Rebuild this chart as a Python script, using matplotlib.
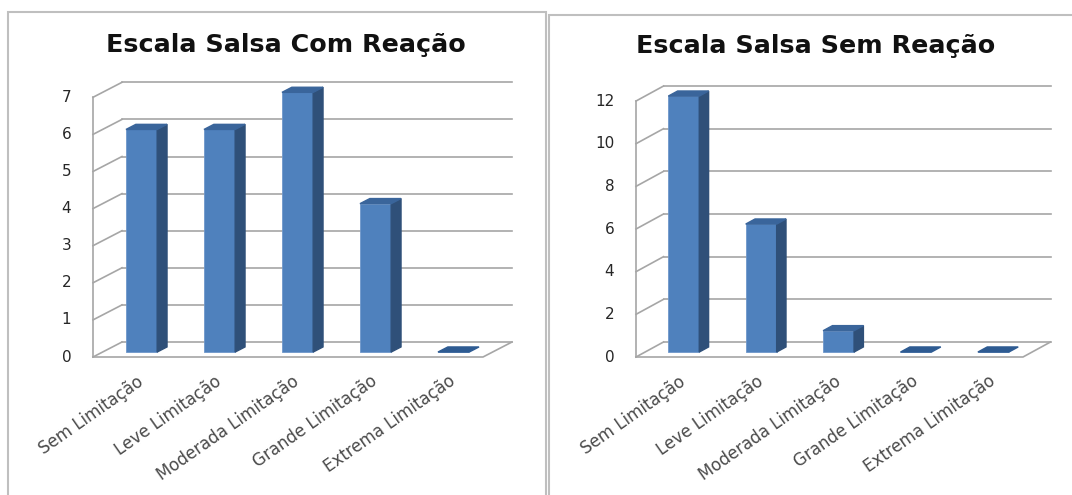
import matplotlib.pyplot as plt
from matplotlib.patches import Polygon, Rectangle

# categorias da escala e contagens de cada grupo
categorias = ["Sem Limitação", "Leve Limitação", "Moderada Limitação",
              "Grande Limitação", "Extrema Limitação"]
com_reacao = [6, 6, 7, 4, 0]
sem_reacao = [12, 6, 1, 0, 0]
ticks_com = list(range(0, 8))
ticks_sem = list(range(0, 13, 2))
titulo_com = "Escala Salsa Com Reação"
titulo_sem = "Escala Salsa Sem Reação"

W, H = 1072, 495
fig = plt.figure(figsize=(W / 100, H / 100), dpi=100)
fig.patch.set_facecolor("white")

FRENTE = "#4F81BD"
LADO = "#2F5079"
TOPO = "#3A659B"
GRADE = "#A6A6A6"


def painel(box, chao_esq, larg_cat, zero_y, unid, prof, valores, ticks, titulo, tit_xy):
    x0, y0, x1, y1 = box
    ax = fig.add_axes([x0 / W, 1 - y1 / H, (x1 - x0) / W, (y1 - y0) / H])
    ax.set_xlim(-0.5 - (chao_esq - x0) / larg_cat, -0.5 + (x1 - chao_esq) / larg_cat)
    ax.set_ylim(-(y1 - zero_y) / unid, (zero_y - y0) / unid)
    ax.axis("off")

    dx = prof[0] / larg_cat
    dy = prof[1] / unid
    n = len(valores)
    xl, xr = -0.5, n - 0.5

    # parede do fundo: linhas de grade e ligações com o eixo da frente
    for t in ticks:
        ax.plot([xl + dx, xr + dx], [t + dy, t + dy], color=GRADE, lw=1.2, zorder=1)
        ax.plot([xl, xl + dx], [t, t + dy], color=GRADE, lw=1.2, zorder=1)
        ax.text(xl - 0.28, t, str(t), ha="right", va="center", fontsize=11,
                color="#262626")
    ax.plot([xl, xl], [0, ticks[-1]], color=GRADE, lw=1.2, zorder=1)

    # chão
    ax.plot([xl, xr, xr + dx], [0, 0, dy], color=GRADE, lw=1.2, zorder=1)

    # barras 3D: frente pelo ax.bar, lateral e topo como polígonos
    z0, z1, w = 0.33, 0.67, 0.2
    xs = [i + z0 * dx for i in range(n)]
    ax.bar(xs, valores, width=2 * w, bottom=z0 * dy, color=FRENTE,
           edgecolor="#6F97CB", linewidth=0.6, zorder=3)
    for i, v in enumerate(valores):
        xa = i + z0 * dx
        xb = i + z1 * dx
        if v > 0:
            lado = [(xa + w, z0 * dy), (xb + w, z1 * dy),
                    (xb + w, v + z1 * dy), (xa + w, v + z0 * dy)]
            ax.add_patch(Polygon(lado, closed=True, color=LADO, zorder=3))
        topo = [(xa - w, v + z0 * dy), (xa + w, v + z0 * dy),
                (xb + w, v + z1 * dy), (xb - w, v + z1 * dy)]
        ax.add_patch(Polygon(topo, closed=True, color=TOPO if v > 0 else "#2E5B92",
                             zorder=4))

    # rótulos das categorias, inclinados
    for i, cat in enumerate(categorias):
        ax.annotate(cat, xy=(i, 0), xytext=(3, -11), textcoords="offset points",
                    ha="right", va="top", rotation=35, rotation_mode="anchor",
                    fontsize=12, color="#4A4A4A")

    fig.text(tit_xy[0] / W, 1 - tit_xy[1] / H, titulo, ha="center", va="center",
             fontsize=18.3, fontweight="bold", color="#111111")
    return ax


painel((8, 12, 546, 495), 93, 78, 357, 37.1, (29, 15), com_reacao, ticks_com,
       titulo_com, (286, 45))
painel((549, 15, 1072, 495), 636, 77.4, 357, 21.33, (27.5, 15), sem_reacao, ticks_sem,
       titulo_sem, (816, 46))

# molduras dos dois gráficos
fig.add_artist(Rectangle((8 / W, -0.1), (546 - 8) / W, 1.1 - 12 / H,
                         transform=fig.transFigure, fill=False, ec="#BFBFBF", lw=1.5))
fig.add_artist(Rectangle((549 / W, -0.1), 0.6, 1.1 - 15 / H,
                         transform=fig.transFigure, fill=False, ec="#BFBFBF", lw=1.5))

fig.savefig("out.png", dpi=100)
